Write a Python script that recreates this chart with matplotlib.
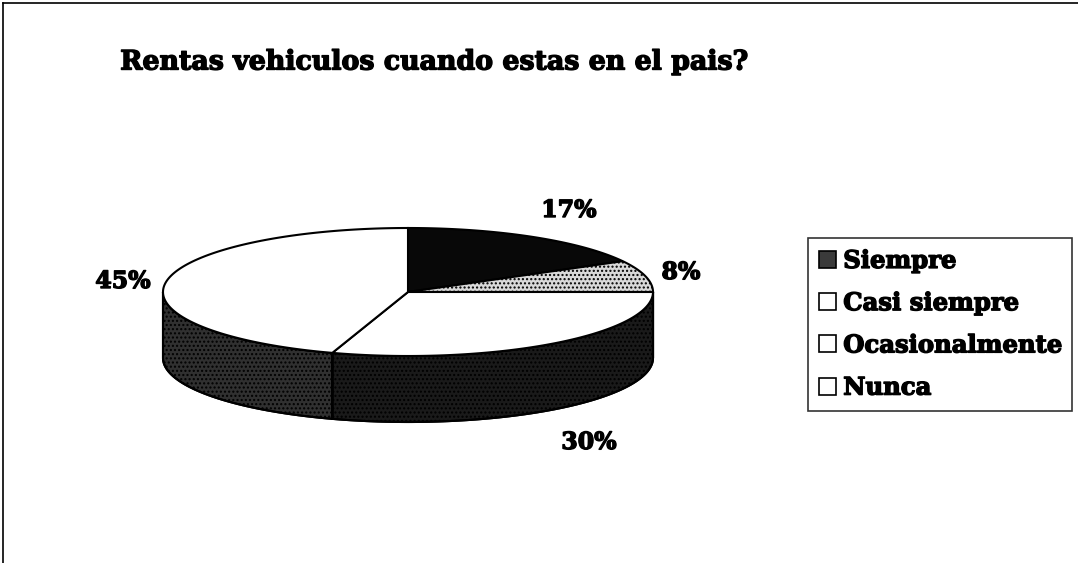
import numpy as np
import matplotlib
matplotlib.use("Agg")
import matplotlib.pyplot as plt
from matplotlib.patches import Polygon, Patch
import matplotlib.patheffects as pe

title = "Rentas vehiculos cuando estas en el pais?"
categories = ["Siempre", "Casi siempre", "Ocasionalmente", "Nunca"]
values = [17, 8, 30, 45]
labels = ["17%", "8%", "30%", "45%"]

top_colors = ["#080808", "#d9d9d9", "#ffffff", "#ffffff"]
side_colors = ["#141414", "#9a9a9a", "#1a1a1a", "#303030"]
legend_colors = ["#3a3a3a", "#ffffff", "#ffffff", "#ffffff"]

plt.rcParams["hatch.color"] = "#555555"

W, H = 1078, 563
fig = plt.figure(figsize=(W / 100, H / 100), dpi=100)
ax = fig.add_axes([0, 0, 1, 1])
ax.set_xlim(0, W)
ax.set_ylim(H, 0)
ax.axis("off")

# frame lines (scan border)
ax.plot([3, 3], [3, H], color="black", lw=1.2)
ax.plot([3, W], [3, 3], color="black", lw=1.2)

fp = dict(family="DejaVu Serif", weight="bold", color="black")
stroke = [pe.withStroke(linewidth=1.0, foreground="black")]

ax.text(434, 62, title, ha="center", va="center", fontsize=19.3,
        path_effects=stroke, **fp)

cx, cy, rx, ry, depth = 408, 292, 245, 64, 66

def pt(t):
    return cx + rx * np.cos(t), cy - ry * np.sin(t)

fr = np.array(values, dtype=float) / sum(values)
starts = np.pi / 2 - 2 * np.pi * np.concatenate([[0], np.cumsum(fr)[:-1]])
ends = starts - 2 * np.pi * fr

# sides (front half: angles in [-pi, 0])
for i in range(len(values)):
    a0, a1 = starts[i], ends[i]
    lo, hi = max(min(a0, a1), -np.pi), min(max(a0, a1), 0)
    if hi > lo:
        t = np.linspace(hi, lo, 120)
        xs, ys = pt(t)
        poly = np.column_stack([np.concatenate([xs, xs[::-1]]),
                                np.concatenate([ys, (ys + depth)[::-1]])])
        ax.add_patch(Polygon(poly, closed=True, facecolor=side_colors[i],
                             edgecolor="black", lw=1.5, hatch="....",
                             zorder=2))
        ax.add_patch(Polygon(poly, closed=True, facecolor="none",
                             edgecolor="black", lw=1.5, zorder=2.5))

# tops
for i in range(len(values)):
    t = np.linspace(starts[i], ends[i], 200)
    xs, ys = pt(t)
    poly = np.column_stack([np.concatenate([[cx], xs]), np.concatenate([[cy], ys])])
    hatch = "...." if i == 1 else None
    ax.add_patch(Polygon(poly, closed=True, facecolor=top_colors[i],
                         edgecolor="black", lw=1.5, hatch=hatch, zorder=3))

# percentage labels
label_pos = {"17%": (569, 210), "8%": (681, 272), "30%": (589, 442), "45%": (123, 281)}
for lab in labels:
    x, y = label_pos[lab]
    ax.text(x, y, lab, ha="center", va="center", fontsize=17,
            path_effects=stroke, **fp)

handles = [Patch(facecolor=c, edgecolor="black", lw=1.2) for c in legend_colors]
leg = fig.legend(handles, categories, loc="upper left",
                 bbox_to_anchor=(808 / W, 1 - 238 / H),
                 frameon=True, fancybox=False, edgecolor="black",
                 handlelength=0.7, handleheight=0.7, handletextpad=0.3,
                 labelspacing=0.75, borderpad=0.45, borderaxespad=0,
                 prop=dict(family="DejaVu Serif", weight="bold", size=17.5))
leg.get_frame().set_linewidth(1.2)
for txt in leg.get_texts():
    txt.set_path_effects([pe.withStroke(linewidth=1.0, foreground="black")])

fig.savefig("out.png", dpi=100, facecolor="white")
